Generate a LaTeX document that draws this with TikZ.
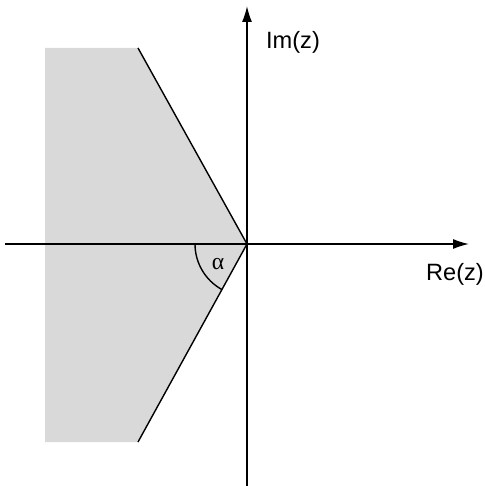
\documentclass[tikz,border=0pt]{standalone}
\usepackage{fontspec}
\setmainfont{Liberation Sans}
\newfontfamily\greekfont{Liberation Serif}
\usetikzlibrary{arrows.meta,positioning}

\begin{document}
\begin{tikzpicture}[x=0.5pt, y=-0.5pt,
    axis/.style={line width=0.7pt, -{Latex[length=8pt, width=5pt]}},
    edge/.style={line width=0.7pt},
    region/.style={fill=black!15, draw=none},
    lab/.style={font=\fontsize{11.8}{13}\selectfont}]
\useasboundingbox (0,0) rectangle (485,486);

% sector corners
\coordinate (O) at (247,244);
\coordinate (tl) at (45,48);
\coordinate (tr) at (138,48);
\coordinate (br) at (138,442);
\coordinate (bl) at (45,442);

\fill[region] (tl) -- (tr) -- (O) -- (br) -- (bl) -- cycle;
\draw[edge] (tr) -- (O) -- (br);

% axes
\coordinate (xl) at (5,244);
\coordinate (xr) at (469,244);
\coordinate (yb) at (247,486);
\coordinate (yt) at (247,6);
\draw[axis] (xl) -- (xr);
\draw[axis] (yb) -- (yt);

\node[lab] (im) at (293,42) {Im(z)};
\node[lab] (re) at (455,274) {Re(z)};

% angle
\draw[edge] ([xshift=-26pt]O) arc[start angle=180, end angle=240.9, radius=26pt];
\node[lab] (alpha) at (218,264) {\greekfont α};
\end{tikzpicture}
\end{document}
